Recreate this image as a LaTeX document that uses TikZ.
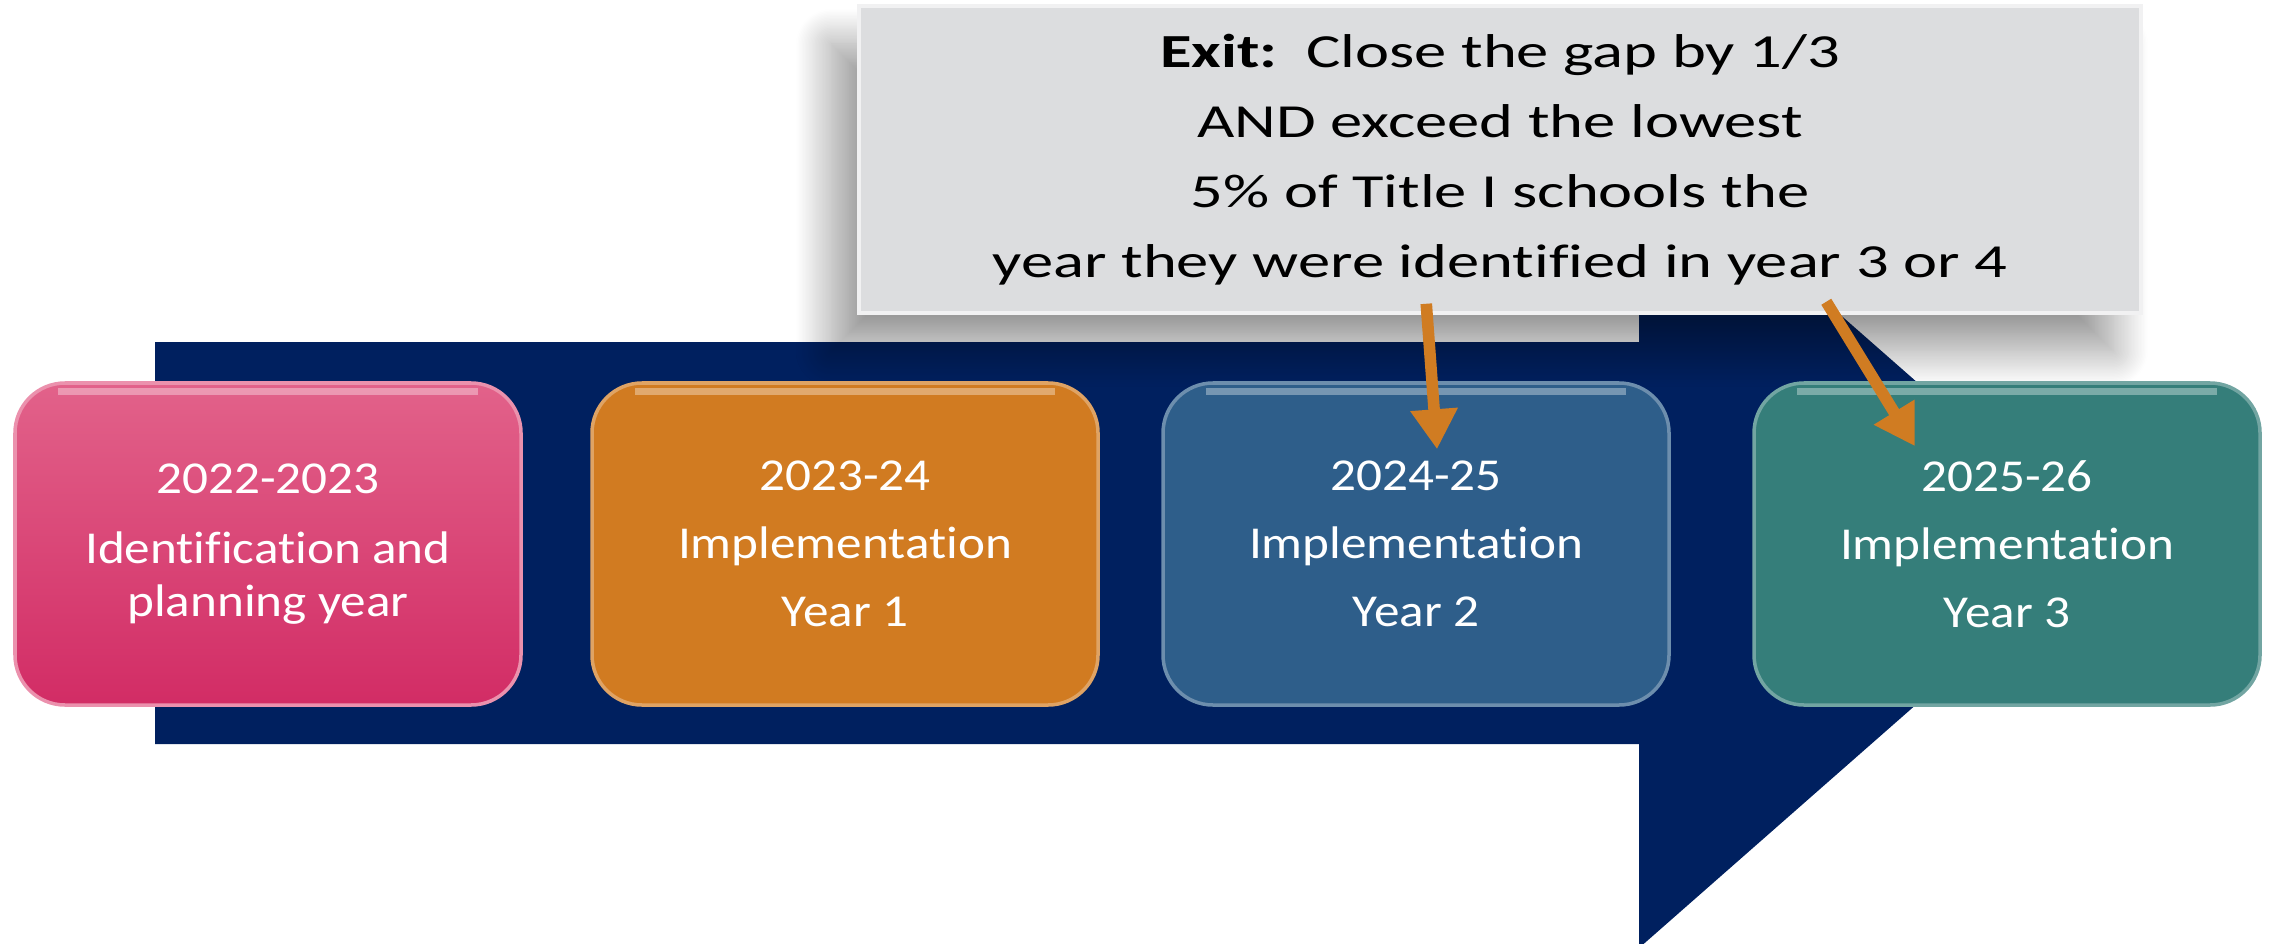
\documentclass[tikz,border=0pt]{standalone}
\usepackage{fontspec}
\setmainfont{Carlito}
\newfontfamily\exitfont[FakeStretch=1.36,Ligatures=CommonOff]{Carlito}
\newfontfamily\yearfont[FakeStretch=1.12,Ligatures=CommonOff]{Carlito}
\usetikzlibrary{arrows.meta,calc,shadows.blur}
\definecolor{navy}{HTML}{00205F}
\definecolor{pinktop}{HTML}{E2628A}
\definecolor{pinkbot}{HTML}{D22C65}
\definecolor{orangebox}{HTML}{D17B21}
\definecolor{bluebox}{HTML}{2E5E8A}
\definecolor{tealbox}{HTML}{357E7A}
\definecolor{exitgrey}{HTML}{DCDDDF}
\definecolor{arroworange}{HTML}{D07C22}

\begin{document}
\begin{tikzpicture}[
        yearbox/.style={rounded corners=0.5cm, minimum width=5.06cm, minimum height=3.22cm,
            text=white, align=center, line width=1pt,
            font=\yearfont\fontsize{13}{19.4}\selectfont},
        pointer/.style={draw=arroworange, line width=3.3pt,
            -{Triangle[width=0.45cm,length=0.4cm]}}]
        \useasboundingbox (0,0) rectangle (22.7,9.43);
        \clip (0,0) rectangle (22.7,9.43);
        % the timeline arrow behind the boxes
        \fill [navy] (1.55,1.99) -- (1.55,6.01) -- (16.39,6.01) -- (16.39,8.05)
            -- (21,4) -- (16.39,-0.05) -- (16.39,1.99) -- cycle;
        % exit criteria
        \node (exit) at (15,7.835) [fill=exitgrey, draw=white!60!exitgrey, line width=1pt,
            minimum width=12.82cm, minimum height=3.07cm, align=center,
            font=\exitfont\fontsize{13.5}{19.9}\selectfont,
            blur shadow={shadow xshift=-0.28cm, shadow yshift=-0.38cm,
                shadow blur radius=0.35cm, shadow blur steps=25, shadow opacity=40}]
            {{\bfseries Exit:}\ \ Close the gap by 1/3\\AND exceed the lowest\\
             5\% of Title I schools the\\year they were identified in year 3 or 4};
        % the four years
        \node (plan) at (2.68,3.99) [yearbox, top color=pinktop, bottom color=pinkbot,
            draw=pinktop!70!white, font=\yearfont\fontsize{13}{15}\selectfont]
            {2022-2023\\[4.9pt]Identification and\\planning year};
        \node (impl1) at (8.45,3.99) [yearbox, fill=orangebox, draw=orangebox!70!white]
            {2023-24\\Implementation\\Year 1};
        \node (impl2) at (14.16,3.99) [yearbox, fill=bluebox, draw=bluebox!70!white]
            {2024-25\\Implementation\\Year 2};
        \node (impl3) at (20.07,3.99) [yearbox, fill=tealbox, draw=tealbox!70!white]
            {2025-26\\Implementation\\Year 3};
        \foreach \n in {plan,impl1,impl2,impl3}{
            \draw [white, opacity=.35, line width=2pt]
                ($(\n.north west)+(.45,-.1)$) -- ($(\n.north east)+(-.45,-.1)$);
        }
        % pointers from the exit box
        \coordinate (from2) at ($(exit.south west)+(5.69,.11)$);
        \coordinate (from3) at ($(exit.south west)+(9.69,.13)$);
        \coordinate (to2) at ($(impl2.north)+(.21,-.68)$);
        \coordinate (to3) at ($(impl3.north)+(-.92,-.65)$);
        \draw [pointer] (from2) -- (to2);
        \draw [pointer] (from3) -- (to3);
\end{tikzpicture}
\end{document}
